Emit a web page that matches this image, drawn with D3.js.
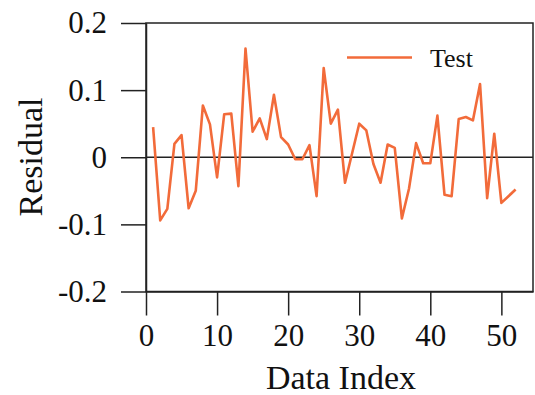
<!DOCTYPE html>
<html>
<head>
<meta charset="utf-8">
<script src="https://cdn.jsdelivr.net/npm/d3@7"></script>
<style>
  body { margin: 0; background: #fff; }
  text { font-family: "Liberation Serif", "Times New Roman", serif; fill: #111; }
</style>
</head>
<body>
<div id="my_chart"></div>
<script>
// data
const dataIndex = [1, 2, 3, 4, 5, 6, 7, 8, 9, 10, 11, 12, 13, 14, 15, 16, 17, 18, 19, 20,
    21, 22, 23, 24, 25, 26, 27, 28, 29, 30, 31, 32, 33, 34, 35, 36, 37, 38, 39, 40,
    41, 42, 43, 44, 45, 46, 47, 48, 49, 50, 51, 52];
const testResidual = [0.045, -0.094, -0.077, 0.020, 0.033, -0.076, -0.050, 0.077, 0.049, -0.030,
    0.064, 0.065, -0.043, 0.162, 0.038, 0.058, 0.027, 0.093, 0.030, 0.019,
    -0.003, -0.003, 0.018, -0.058, 0.133, 0.050, 0.071, -0.038, 0.006, 0.050,
    0.040, -0.010, -0.038, 0.019, 0.014, -0.091, -0.047, 0.021, -0.009, -0.009,
    0.062, -0.056, -0.058, 0.057, 0.060, 0.055, 0.109, -0.061, 0.035, -0.068,
    -0.058, -0.048];
const xTicks = [0, 10, 20, 30, 40, 50];
const yTicks = [-0.2, -0.1, 0, 0.1, 0.2];
const yTickLabels = ["-0.2", "-0.1", "0", "0.1", "0.2"];
const seriesName = "Test";

// dimensions
const margin = { top: 23, right: 2, bottom: 103.5, left: 146 },
    width = 535 - margin.left - margin.right,
    height = 395 - margin.top - margin.bottom;

const svg = d3.select("#my_chart")
    .append("svg")
    .attr("width", 535)
    .attr("height", 395);

const g = svg.append("g")
    .attr("transform", `translate(${margin.left},${margin.top})`);

const x = d3.scaleLinear().domain([0, 54.45]).range([0, width]);
const y = d3.scaleLinear().domain([-0.2, 0.2]).range([height, 0]);

// frame
g.append("rect")
    .attr("width", width)
    .attr("height", height)
    .attr("fill", "none")
    .attr("stroke", "#222")
    .attr("stroke-width", 1.5);

// zero line
g.append("line")
    .attr("x1", 0).attr("x2", width)
    .attr("y1", y(0)).attr("y2", y(0))
    .attr("stroke", "#222")
    .attr("stroke-width", 1.5);

// X axis
const xAxis = g.append("g")
    .attr("transform", `translate(0,${height})`)
    .call(d3.axisBottom(x).tickValues(xTicks).tickSize(24).tickSizeOuter(0).tickPadding(8));

// Y axis
const yAxis = g.append("g")
    .call(d3.axisLeft(y).tickValues(yTicks).tickSize(25).tickSizeOuter(0).tickPadding(14)
        .tickFormat((d, i) => yTickLabels[i]));

[xAxis, yAxis].forEach(a => {
    a.select(".domain").attr("stroke", "#222").attr("stroke-width", 1.5);
    a.selectAll(".tick line").attr("stroke", "#222").attr("stroke-width", 1.5);
    a.selectAll(".tick text")
        .style("font-family", '"Liberation Serif", "Times New Roman", serif')
        .style("font-size", "31px")
        .attr("fill", "#111");
});

// line
const line = d3.line()
    .x((d, i) => x(dataIndex[i]))
    .y(d => y(d));

g.append("path")
    .datum(testResidual)
    .attr("fill", "none")
    .attr("stroke", "#F26B3A")
    .attr("stroke-width", 2.6)
    .attr("stroke-linejoin", "round")
    .attr("d", line);

// axis titles
svg.append("text")
    .attr("x", 341)
    .attr("y", 389)
    .attr("text-anchor", "middle")
    .style("font-size", "34px")
    .text("Data Index");

svg.append("text")
    .attr("transform", "translate(42,157) rotate(-90)")
    .attr("text-anchor", "middle")
    .style("font-size", "34px")
    .text("Residual");

// legend
svg.append("line")
    .attr("x1", 347).attr("x2", 412)
    .attr("y1", 57.5).attr("y2", 57.5)
    .attr("stroke", "#F26B3A")
    .attr("stroke-width", 2.6);

svg.append("text")
    .attr("x", 430)
    .attr("y", 66.5)
    .style("font-size", "26px")
    .text(seriesName);
</script>
</body>
</html>
